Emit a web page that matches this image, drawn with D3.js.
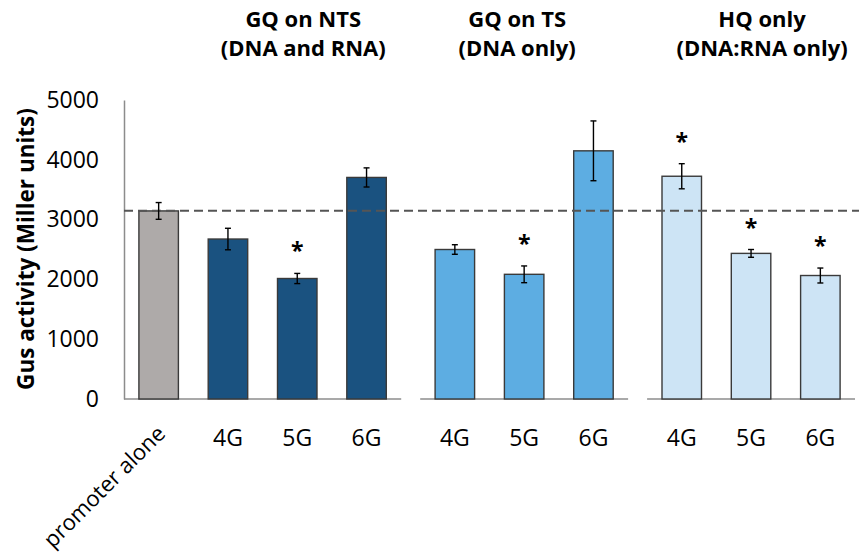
<!DOCTYPE html>
<meta charset="utf-8">
<head>
	<title>Gus activity</title>
	<script type="text/javascript" src="https://d3js.org/d3.v7.min.js"></script>
	<style>
		body { margin: 0; background: #fff; }
		text { font-family: "Open Sans", sans-serif; fill: #000; }
		.tick text { font-size: 23px; }
		.bar { stroke: #3a3a3a; stroke-width: 1.4; }
		.err { stroke: #000; stroke-width: 1.4; }
		.base { stroke: #8c8c8c; stroke-width: 1.5; }
	</style>
</head>
<body>
	<div id="chart"></div>
	<script>
		// values
		var headers = [["GQ on NTS", "(DNA and RNA)"], ["GQ on TS", "(DNA only)"], ["HQ only", "(DNA:RNA only)"]];
		var labels = ["promoter alone", "4G", "5G", "6G", "4G", "5G", "6G", "4G", "5G", "6G"];
		var groupOf = [0, 0, 0, 0, 1, 1, 1, 2, 2, 2];
		var values = [3145, 2675, 2015, 3705, 2500, 2085, 4150, 3725, 2435, 2065];
		var errors = [140, 180, 85, 160, 80, 140, 500, 210, 65, 125];
		var starred = [false, false, true, false, false, true, false, true, true, true];
		var colorOf = ["#aeaaa9", "#1a5280", "#1a5280", "#1a5280", "#5dade2", "#5dade2", "#5dade2", "#cde4f5", "#cde4f5", "#cde4f5"];
		var reference = 3150;
		var yTicks = [0, 1000, 2000, 3000, 4000, 5000];

		var width = 859, height = 560;
		var svg = d3.select("#chart").append("svg")
			.attr("width", width)
			.attr("height", height);

		var y = d3.scaleLinear().domain([0, 5000]).range([399, 100]);

		// group bands laid out side by side
		var step = 69.3, gap = 19, x0 = 124;
		var groupIds = d3.range(headers.length);
		var groupRange = [], cur = x0;
		groupIds.forEach(function(g) {
			var n = groupOf.filter(function(d) { return d === g; }).length;
			groupRange.push([cur, cur + n * step]);
			cur += n * step + gap;
		});
		var inner = groupIds.map(function(g) {
			var idx = d3.range(labels.length).filter(function(i) { return groupOf[i] === g; });
			return d3.scaleBand().domain(idx).range(groupRange[g]).paddingInner(0.43).paddingOuter(0.215);
		});
		function xb(i) { return inner[groupOf[i]](i); }
		var bw = inner[0].bandwidth();
		function xc(i) { return xb(i) + bw / 2; }

		var data = d3.range(labels.length);

		// y axis
		var yAxis = svg.append("g")
			.attr("transform", "translate(" + x0 + ",0)")
			.call(d3.axisLeft(y).tickValues(yTicks).tickFormat(d3.format("d")).tickSize(0).tickSizeOuter(0).tickPadding(25));
		yAxis.select(".domain").attr("stroke", "#8c8c8c").attr("stroke-width", 1.5);

		svg.append("text")
			.attr("transform", "translate(34,249) rotate(-90)")
			.attr("text-anchor", "middle")
			.style("font-size", "22.5px")
			.style("font-weight", "bold")
			.text("Gus activity (Miller units)");

		// baselines per group
		svg.selectAll(".base").data(groupIds).enter().append("line")
			.attr("class", "base")
			.attr("x1", function(g) { return groupRange[g][0]; })
			.attr("x2", function(g) { return groupRange[g][1]; })
			.attr("y1", y(0)).attr("y2", y(0));

		// bars
		svg.selectAll(".bar").data(data).enter().append("rect")
			.attr("class", "bar")
			.attr("x", xb)
			.attr("width", bw)
			.attr("y", function(i) { return y(values[i]); })
			.attr("height", function(i) { return y(0) - y(values[i]); })
			.attr("fill", function(i) { return colorOf[i]; });

		// reference line
		svg.append("line")
			.attr("x1", x0).attr("x2", width)
			.attr("y1", y(reference)).attr("y2", y(reference))
			.attr("stroke", "#555")
			.attr("stroke-width", 2)
			.attr("stroke-dasharray", "9,5");

		// error bars
		var eb = svg.selectAll(".eb").data(data).enter().append("g");
		eb.append("line").attr("class", "err")
			.attr("x1", xc).attr("x2", xc)
			.attr("y1", function(i) { return y(values[i] + errors[i]); })
			.attr("y2", function(i) { return y(values[i] - errors[i]); });
		eb.append("line").attr("class", "err")
			.attr("x1", function(i) { return xc(i) - 3; }).attr("x2", function(i) { return xc(i) + 3; })
			.attr("y1", function(i) { return y(values[i] + errors[i]); })
			.attr("y2", function(i) { return y(values[i] + errors[i]); });
		eb.append("line").attr("class", "err")
			.attr("x1", function(i) { return xc(i) - 3; }).attr("x2", function(i) { return xc(i) + 3; })
			.attr("y1", function(i) { return y(values[i] - errors[i]); })
			.attr("y2", function(i) { return y(values[i] - errors[i]); });

		// significance stars
		svg.selectAll(".star").data(data.filter(function(i) { return starred[i]; })).enter().append("text")
			.attr("x", xc)
			.attr("y", function(i) { return y(values[i] + errors[i]) - 14; })
			.attr("text-anchor", "middle")
			.style("font-size", "23px")
			.style("font-weight", "bold")
			.text("*");

		// x labels
		svg.selectAll(".xl").data(data.filter(function(i) { return i > 0; })).enter().append("text")
			.attr("x", xc)
			.attr("y", 446)
			.attr("text-anchor", "middle")
			.style("font-size", "23px")
			.text(function(i) { return labels[i]; });

		svg.append("text")
			.attr("transform", "translate(" + (xc(0) + 8) + ",435) rotate(-45)")
			.attr("text-anchor", "end")
			.style("font-size", "22px")
			.text(labels[0]);

		// group headers
		var headerDx = [6, -7, 11];
		groupIds.forEach(function(g) {
			var idx = data.filter(function(i) { return groupOf[i] === g && i > 0; });
			var cx = d3.mean(idx, xc) + headerDx[g];
			headers[g].forEach(function(line, k) {
				svg.append("text")
					.attr("x", cx)
					.attr("y", 27 + k * 29)
					.attr("text-anchor", "middle")
					.style("font-size", "22px")
					.style("font-weight", "bold")
					.text(line);
			});
		});
	</script>
</body>
</html>
